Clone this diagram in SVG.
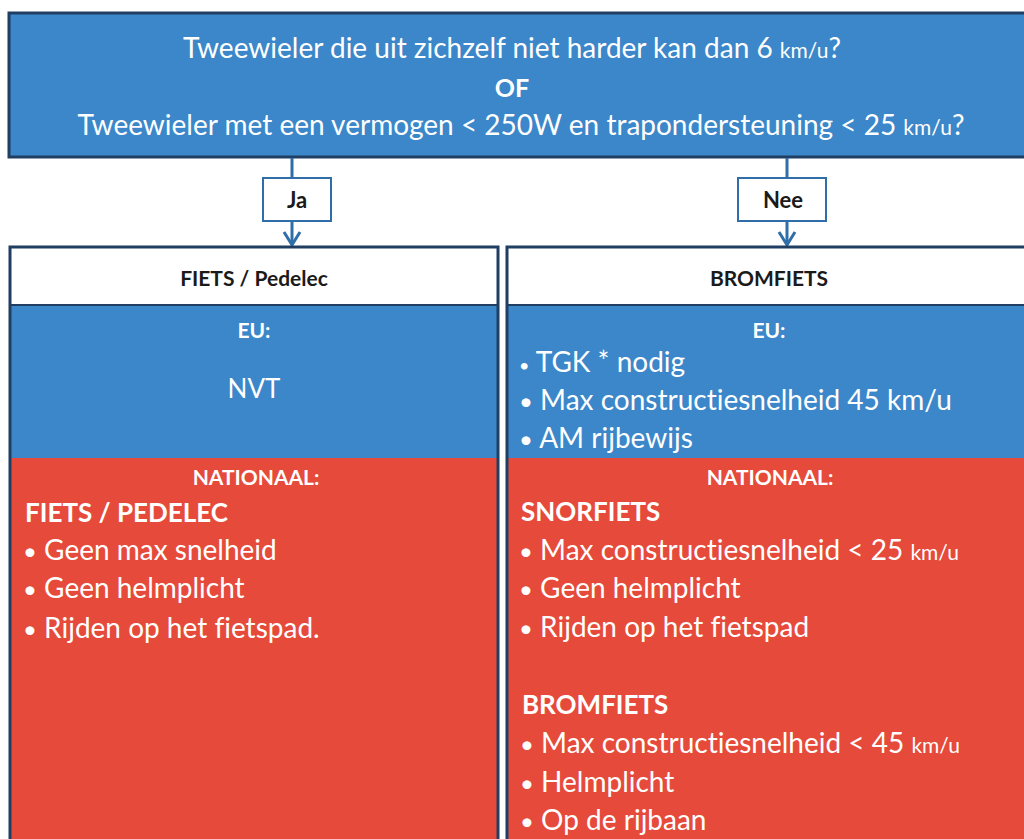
<svg xmlns="http://www.w3.org/2000/svg" width="1024" height="839" viewBox="0 0 1024 839">
  <style>
    .t { font-family: Lato, "Open Sans", "Liberation Sans", sans-serif; fill: #ffffff; font-variant-ligatures: none; }
    .b { font-weight: bold; }
    .dark { fill: #1a1a1a; }
    .blue { fill: #3b87c9; }
    .red { fill: #e64a3a; }
    .frame { fill: none; stroke: #1f3e62; stroke-width: 3; }
    .sep { stroke: #1f3e62; stroke-width: 2; }
    .conn { stroke: #2f6ea8; stroke-width: 3; fill: none; }
    .head-arrow { stroke: #2f6ea8; stroke-width: 3; fill: none; stroke-linejoin: miter; }
    .lbl { fill: #ffffff; stroke: #2f6ea8; stroke-width: 2; }
    .sm { font-size: 21px; }
    .body { font-size: 28px; }
    .head { font-size: 26px; }
    .cap { font-size: 21px; }
    .dot { font-size: 24px; }
  </style>
  <rect x="0" y="0" width="1024" height="839" fill="#ffffff"/>

  <!-- question -->
  <g id="question">
    <rect x="9" y="13" width="1030" height="144" class="blue"/>
    <rect x="9" y="13" width="1030" height="144" class="frame"/>
    <text class="t" x="512" y="58" font-size="28" text-anchor="middle">Tweewieler die uit zichzelf niet harder kan dan 6 <tspan class="sm">km/u</tspan>?</text>
    <text class="t b" x="512" y="97" font-size="25" text-anchor="middle">OF</text>
    <text class="t" x="521" y="135" font-size="28" text-anchor="middle">Tweewieler met een vermogen &lt; 250W en trapondersteuning &lt; 25 <tspan class="sm">km/u</tspan>?</text>
  </g>

  <!-- connectors: vertical stems with open chevron heads -->
  <g id="connectors">
    <line x1="292" y1="158" x2="292" y2="244" class="conn"/>
    <path d="M284,232 L292,245 L300,232" class="head-arrow"/>
    <line x1="787" y1="158" x2="787" y2="244" class="conn"/>
    <path d="M779,232 L787,245 L795,232" class="head-arrow"/>
  </g>

  <g id="label-ja">
    <rect x="263" y="178" width="68" height="43" class="lbl"/>
    <text class="t b dark" x="297" y="208" font-size="22" text-anchor="middle">Ja</text>
  </g>
  <g id="label-nee">
    <rect x="738" y="178" width="88" height="43" class="lbl"/>
    <text class="t b dark" x="783" y="208" font-size="22" text-anchor="middle">Nee</text>
  </g>

  <!-- left outcome -->
  <g id="fiets">
    <rect x="10" y="247" width="488" height="58" fill="#ffffff"/>
    <rect x="10" y="305" width="488" height="153" class="blue"/>
    <rect x="10" y="458" width="488" height="390" class="red"/>
    <line x1="10" y1="305" x2="498" y2="305" class="sep"/>
    <rect x="10" y="247" width="488" height="600" class="frame"/>
    <text class="t b dark cap" x="254" y="286" text-anchor="middle">FIETS / Pedelec</text>
    <text class="t b cap" x="254" y="338" text-anchor="middle">EU:</text>
    <text class="t" x="254" y="398" font-size="26" text-anchor="middle">NVT</text>
    <text class="t b cap" x="256" y="485" text-anchor="middle">NATIONAAL:</text>
    <text class="t b head" x="25" y="522">FIETS / PEDELEC</text>
    <text class="t body" x="23" y="560"><tspan class="dot">•</tspan> Geen max snelheid</text>
    <text class="t body" x="23" y="598"><tspan class="dot">•</tspan> Geen helmplicht</text>
    <text class="t body" x="23" y="638"><tspan class="dot">•</tspan> Rijden op het fietspad.</text>
  </g>

  <!-- right outcome -->
  <g id="bromfiets">
    <rect x="507" y="247" width="530" height="58" fill="#ffffff"/>
    <rect x="507" y="305" width="530" height="153" class="blue"/>
    <rect x="507" y="458" width="530" height="390" class="red"/>
    <line x1="507" y1="305" x2="1030" y2="305" class="sep"/>
    <rect x="507" y="247" width="530" height="600" class="frame"/>
    <text class="t b dark cap" x="769" y="286" text-anchor="middle">BROMFIETS</text>
    <text class="t b cap" x="769" y="338" text-anchor="middle">EU:</text>
    <text class="t body" x="519" y="372"><tspan font-size="18">•</tspan> TGK * nodig</text>
    <text class="t body" x="519" y="410"><tspan class="dot">•</tspan> Max constructiesnelheid 45 km/u</text>
    <text class="t body" x="519" y="448"><tspan class="dot">•</tspan> AM rijbewijs</text>
    <text class="t b cap" x="770" y="485" text-anchor="middle">NATIONAAL:</text>
    <text class="t b head" x="521" y="521">SNORFIETS</text>
    <text class="t body" x="519" y="560"><tspan class="dot">•</tspan> Max constructiesnelheid &lt; 25 <tspan class="sm">km/u</tspan></text>
    <text class="t body" x="519" y="598"><tspan class="dot">•</tspan> Geen helmplicht</text>
    <text class="t body" x="519" y="637"><tspan class="dot">•</tspan> Rijden op het fietspad</text>
    <text class="t b head" x="522" y="714">BROMFIETS</text>
    <text class="t body" x="520" y="753"><tspan class="dot">•</tspan> Max constructiesnelheid &lt; 45 <tspan class="sm">km/u</tspan></text>
    <text class="t body" x="520" y="792"><tspan class="dot">•</tspan> Helmplicht</text>
    <text class="t body" x="520" y="830"><tspan class="dot">•</tspan> Op de rijbaan</text>
  </g>
</svg>
